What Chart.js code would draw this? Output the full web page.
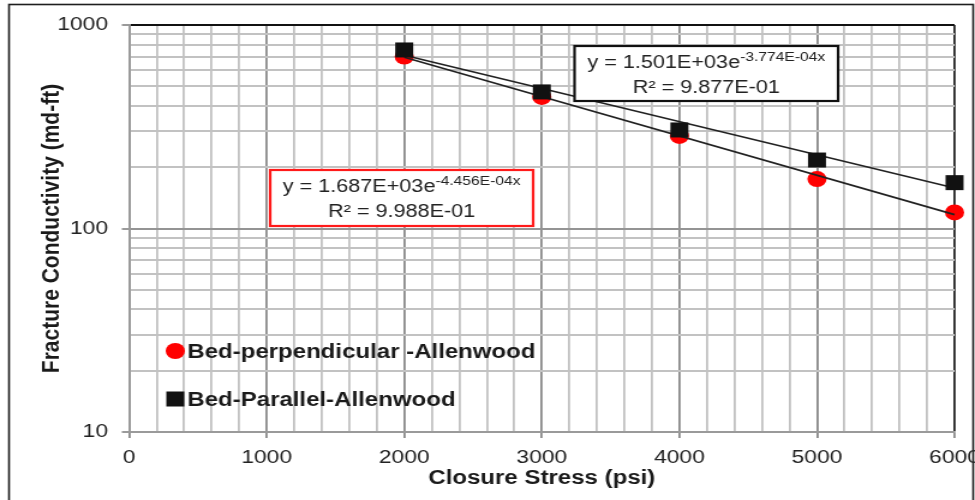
<!DOCTYPE html>
<html>
<head>
<meta charset="utf-8">
<title>Fracture Conductivity vs Closure Stress</title>
<script src="https://cdn.jsdelivr.net/npm/chart.js@4.4.1/dist/chart.umd.min.js"></script>
<style>
    html, body { margin: 0; padding: 0; background: #fff; overflow: hidden; }
    /* la figura original esta estirada en horizontal, se imita con scaleX */
    #conductividadChart { display: block; transform: scaleX(1.2007); transform-origin: 0 0; }
</style>
</head>
<body>
<canvas id="conductividadChart" width="812" height="500"></canvas>
<script>
// datos
const esfuerzos = [2000, 3000, 4000, 5000, 6000];
const perpendicular = [700, 443, 285, 175, 120];
const paralelo = [754, 469, 305, 217, 168];
const tendenciaX = [2000, 6000];
const tendenciaPerpendicular = [695, 117];
const tendenciaParalelo = [710, 158];
const etiquetasX = [0, 1000, 2000, 3000, 4000, 5000, 6000];
const etiquetasY = [10, 100, 1000];
const nombresSeries = ['Bed-perpendicular -Allenwood', 'Bed-Parallel-Allenwood'];
const ecuacionPerpendicular = ['y = 1.687E+03e', '-4.456E-04x', 'R\u00b2 = 9.988E-01'];
const ecuacionParalelo = ['y = 1.501E+03e', '-3.774E-04x', 'R\u00b2 = 9.877E-01'];

const FUENTE = '"Liberation Sans", Arial, Helvetica, sans-serif';

document.addEventListener('DOMContentLoaded', () => {
    inicializarGrafico();
});

function lineasX() {
    const valores = [];
    for (let v = 0; v <= 6000; v += 200) valores.push(v);
    return valores;
}

function lineasY() {
    const valores = [];
    [10, 100].forEach(decada => {
        for (let k = 1; k <= 9; k++) valores.push(k * decada);
    });
    valores.push(1000);
    return valores;
}

const marcoExterior = {
    id: 'marcoExterior',
    beforeDraw(chart) {
        const ctx = chart.ctx;
        ctx.save();
        ctx.fillStyle = '#fff';
        ctx.fillRect(0, 0, chart.width, chart.height);
        ctx.strokeStyle = '#1e1e1e';
        ctx.lineWidth = 1.6;
        ctx.strokeRect(7.5, 4.5, 803, 600);
        ctx.restore();
    }
};

const leyendaInterna = {
    id: 'leyendaInterna',
    afterDraw(chart) {
        const { ctx, chartArea } = chart;
        const xMarca = chartArea.left + 38.5;
        const xTexto = chartArea.left + 48.5;
        ctx.save();
        ctx.font = 'bold 20px ' + FUENTE;
        ctx.textBaseline = 'middle';
        ctx.textAlign = 'left';

        let y = chartArea.bottom - 81;
        ctx.fillStyle = '#ff0000';
        ctx.beginPath();
        ctx.arc(xMarca, y, 8, 0, Math.PI * 2);
        ctx.fill();
        ctx.fillStyle = '#1a1a1a';
        ctx.fillText(nombresSeries[0], xTexto, y + 1);

        y = chartArea.bottom - 33;
        ctx.fillStyle = '#111';
        ctx.fillRect(xMarca - 7.5, y - 7.5, 15, 15);
        ctx.fillStyle = '#1a1a1a';
        ctx.fillText(nombresSeries[1], xTexto, y + 1);
        ctx.restore();
    }
};

function dibujarCaja(ctx, caja, textos) {
    ctx.save();
    ctx.fillStyle = '#fff';
    ctx.fillRect(caja.x, caja.y, caja.w, caja.h);
    ctx.strokeStyle = caja.color;
    ctx.lineWidth = 2.2;
    ctx.strokeRect(caja.x, caja.y, caja.w, caja.h);

    const cx = caja.x + caja.w / 2;
    ctx.fillStyle = '#222';
    ctx.textBaseline = 'alphabetic';
    ctx.textAlign = 'left';
    ctx.font = '18px ' + FUENTE;
    const anchoBase = ctx.measureText(textos[0]).width;
    ctx.font = '13px ' + FUENTE;
    const anchoExp = ctx.measureText(textos[1]).width;
    const inicio = cx - (anchoBase + anchoExp) / 2;
    ctx.font = '18px ' + FUENTE;
    ctx.fillText(textos[0], inicio, caja.y + 22);
    ctx.font = '13px ' + FUENTE;
    ctx.fillText(textos[1], inicio + anchoBase, caja.y + 15);
    ctx.font = '18px ' + FUENTE;
    ctx.textAlign = 'center';
    ctx.fillText(textos[2], cx, caja.y + 47);
    ctx.restore();
}

const cajasEcuacion = {
    id: 'cajasEcuacion',
    afterDraw(chart) {
        dibujarCaja(chart.ctx, { x: 225, y: 170, w: 219, h: 56, color: '#ff1a1a' }, ecuacionPerpendicular);
        dibujarCaja(chart.ctx, { x: 478.5, y: 46, w: 219.5, h: 55, color: '#111' }, ecuacionParalelo);
    }
};

function puntos(xs, ys) {
    return xs.map((x, i) => ({ x, y: ys[i] }));
}

function inicializarGrafico() {
    if (typeof Chart === 'undefined') {
        console.error('Error: Chart.js no esta cargado.');
        return;
    }
    Chart.defaults.font.family = FUENTE;

    window.conductividadChart = new Chart(document.getElementById('conductividadChart').getContext('2d'), {
        type: 'scatter',
        data: {
            datasets: [
                {
                    label: nombresSeries[1],
                    data: puntos(esfuerzos, paralelo),
                    pointStyle: 'rect',
                    pointRadius: 10.6,
                    pointBackgroundColor: '#111',
                    pointBorderWidth: 0,
                    clip: false,
                    order: 1
                },
                {
                    label: 'Expon. paralelo',
                    data: puntos(tendenciaX, tendenciaParalelo),
                    showLine: true,
                    pointRadius: 0,
                    borderColor: '#222',
                    borderWidth: 1.6,
                    clip: false,
                    order: 2
                },
                {
                    label: 'Expon. perpendicular',
                    data: puntos(tendenciaX, tendenciaPerpendicular),
                    showLine: true,
                    pointRadius: 0,
                    borderColor: '#222',
                    borderWidth: 1.6,
                    clip: false,
                    order: 3
                },
                {
                    label: nombresSeries[0],
                    data: puntos(esfuerzos, perpendicular),
                    pointStyle: 'circle',
                    pointRadius: 8,
                    pointBackgroundColor: '#ff0000',
                    pointBorderWidth: 0,
                    clip: false,
                    order: 4
                }
            ]
        },
        options: {
            responsive: false,
            animation: false,
            layout: { padding: { top: 25, right: 17, left: 0, bottom: 0 } },
            plugins: {
                legend: { display: false },
                tooltip: { enabled: false }
            },
            scales: {
                x: {
                    type: 'linear',
                    min: 0,
                    max: 6000,
                    afterBuildTicks: (scale) => { scale.ticks = lineasX().map(v => ({ value: v })); },
                    afterFit: (scale) => { scale.height = 68; scale.paddingLeft = 0; scale.paddingRight = 0; },
                    ticks: {
                        autoSkip: false,
                        maxRotation: 0,
                        padding: 8,
                        color: '#222',
                        font: { size: 19 },
                        callback: (v) => etiquetasX.includes(v) ? String(v) : ''
                    },
                    grid: {
                        color: (c) => {
                            const v = c.tick ? c.tick.value : 0;
                            if (v === 6000) return '#222';
                            return v % 1000 === 0 ? '#8a8a8a' : '#c2c2c2';
                        },
                        lineWidth: 1.8,
                        tickLength: 6,
                        tickColor: (c) => (c.tick && c.tick.value % 1000 === 0) ? '#8a8a8a' : 'rgba(0,0,0,0)'
                    },
                    border: { color: '#9a9a9a', width: 2 },
                    title: {
                        display: true,
                        text: 'Closure Stress (psi)',
                        color: '#1a1a1a',
                        font: { size: 20, weight: 'bold' },
                        padding: { top: 0, bottom: 10 }
                    }
                },
                y: {
                    type: 'logarithmic',
                    min: 10,
                    max: 1000,
                    afterBuildTicks: (scale) => { scale.ticks = lineasY().map(v => ({ value: v })); },
                    afterFit: (scale) => { scale.width = 107.5; scale.paddingTop = 0; scale.paddingBottom = 0; },
                    ticks: {
                        autoSkip: false,
                        padding: 11.5,
                        color: '#222',
                        font: { size: 19 },
                        callback: (v) => etiquetasY.includes(v) ? String(v) : ''
                    },
                    grid: {
                        color: (c) => {
                            const v = c.tick ? c.tick.value : 0;
                            if (v === 1000) return '#111';
                            return etiquetasY.includes(v) ? '#949494' : '#c2c2c2';
                        },
                        lineWidth: 2,
                        tickLength: 6,
                        tickColor: (c) => (c.tick && etiquetasY.includes(c.tick.value)) ? '#9a9a9a' : 'rgba(0,0,0,0)'
                    },
                    border: { color: '#9a9a9a', width: 1.7 },
                    title: {
                        display: true,
                        text: 'Fracture Conductivity (md-ft)',
                        color: '#1a1a1a',
                        font: { size: 21, weight: 'bold' },
                        padding: { top: 31, bottom: 0 }
                    }
                }
            }
        },
        plugins: [marcoExterior, leyendaInterna, cajasEcuacion]
    });
}
</script>
</body>
</html>
